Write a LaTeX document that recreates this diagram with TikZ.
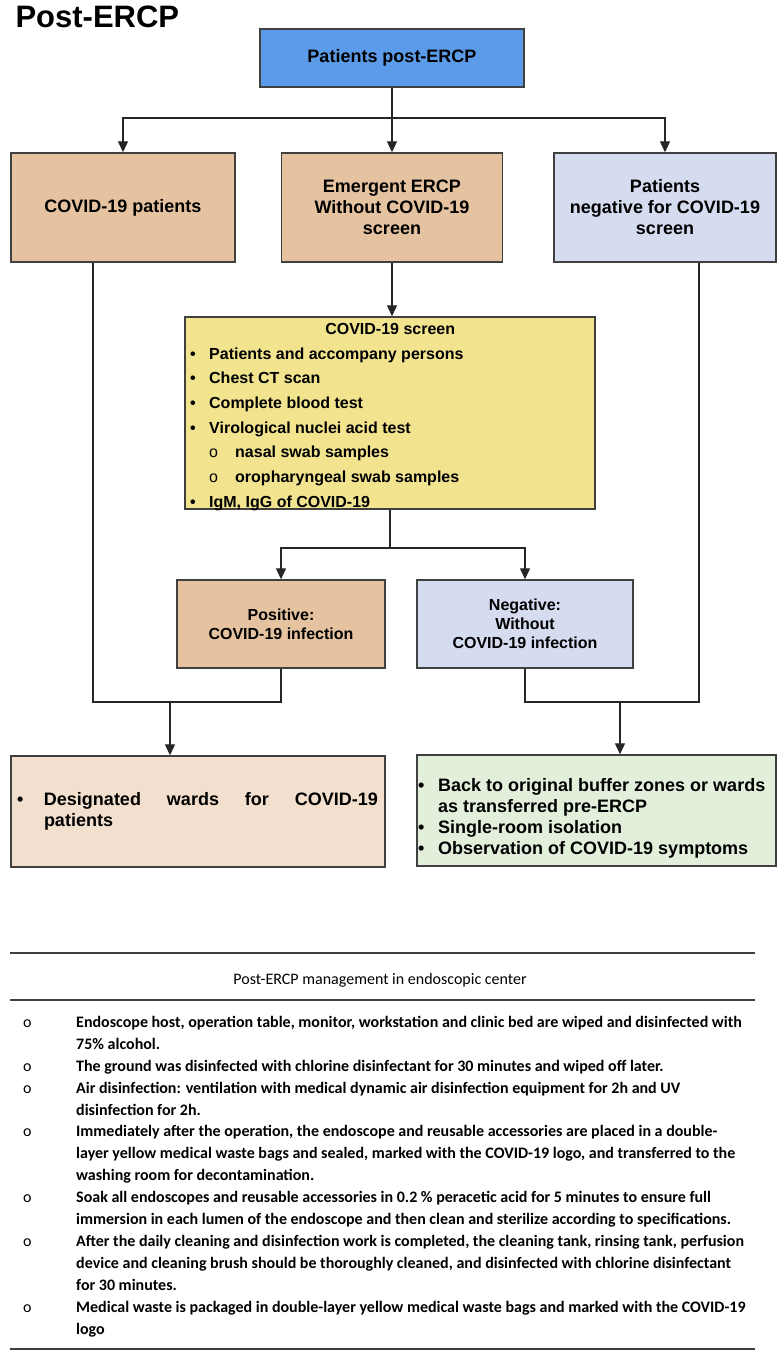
\documentclass[tikz,border=0pt]{standalone}
\usepackage{fontspec}
\setmainfont{Liberation Sans}
\newfontfamily\calibrifont{Carlito}
\usetikzlibrary{arrows.meta}
\definecolor{topblue}{RGB}{91,155,233}
\definecolor{tanbox}{RGB}{230,195,160}
\definecolor{lavbox}{RGB}{214,220,240}
\definecolor{yelbox}{RGB}{242,228,143}
\definecolor{peachbox}{RGB}{242,223,205}
\definecolor{greenbox}{RGB}{226,239,218}
\definecolor{edgegray}{RGB}{64,64,64}
\newcommand{\bul}[1]{\makebox[#1][l]{\textbullet}}
\newcommand{\subbul}{\makebox[45pt][l]{\hspace*{19pt}{\mdseries o}}}
\newcommand{\mitem}{\makebox[56pt][l]{\hspace*{3pt}{\mdseries o}}}
\newcommand{\mcont}{\hspace*{56pt}}

\begin{document}
\begin{tikzpicture}[x=1pt,y=-1pt,>={Triangle[length=11pt,width=10pt]}]
\tikzstyle{box}=[draw=edgegray,line width=1.4pt,inner sep=0pt,align=center,font=\bfseries\fontsize{18}{21}\selectfont]
\tikzstyle{warm}=[box,fill=tanbox]
\tikzstyle{cool}=[box,fill=lavbox]
\tikzstyle{link}=[draw=black!85,line width=1.2pt]
\tikzstyle{rule}=[draw=black!75,line width=1.2pt]
\useasboundingbox (0,0) rectangle (779,1355);
\fill[white] (0,0) rectangle (779,1355);

% flow chart
\node[anchor=base west,font=\bfseries\fontsize{31}{31}\selectfont] (title) at (12,27) {Post-ERCP};
\node[box,fill=topblue,minimum width=264pt,minimum height=58pt] (top) at (392,58) {Patients post-ERCP};
\node[warm,minimum width=224pt,minimum height=109pt] (covid) at (123,207.5) {COVID-19 patients};
\node[warm,minimum width=221pt,minimum height=109pt] (emerg) at (392,207.5) {Emergent ERCP\\Without COVID-19\\screen};
\node[cool,minimum width=222pt,minimum height=109pt] (negscr) at (665,207.5) {Patients\\negative for COVID-19\\screen};
\node[box,fill=yelbox,minimum width=410pt,minimum height=192pt] (screen) at (390,413) {};
\node[anchor=north west,inner sep=0pt,align=left,font=\bfseries\fontsize{16}{24.7}\selectfont] (screentext) at (190,323)
  {\makebox[400pt][c]{COVID-19 screen}\\
   \bul{19pt}Patients and accompany persons\\
   \bul{19pt}Chest CT scan\\
   \bul{19pt}Complete blood test\\
   \bul{19pt}Virological nuclei acid test\\
   \subbul nasal swab samples\\
   \subbul oropharyngeal swab samples\\
   \bul{19pt}IgM, IgG of COVID-19};
\node[warm,minimum width=208pt,minimum height=88pt,font=\bfseries\fontsize{16}{19}\selectfont] (posit) at (281,624) {Positive:\\COVID-19 infection};
\node[cool,minimum width=216pt,minimum height=88pt,font=\bfseries\fontsize{16}{19}\selectfont] (neg) at (525,624) {Negative:\\Without\\COVID-19 infection};
\node[box,fill=peachbox,minimum width=374pt,minimum height=111pt,text width=362pt,align=left] (wards) at (198,811.5)
  {\bul{27pt}\makebox[334pt][l]{Designated\hfill wards\hfill for\hfill COVID-19}\\\hspace*{27pt}patients};
\node[box,fill=greenbox,minimum width=359pt,minimum height=111pt] (care) at (596.5,810.5) {};
\node[anchor=north west,inner sep=0pt,align=left,font=\bfseries\fontsize{18}{21}\selectfont] (caretext) at (418,778)
  {\bul{20pt}Back to original buffer zones or wards\\
   \hspace*{20pt}as transferred pre-ERCP\\
   \bul{20pt}Single-room isolation\\
   \bul{20pt}Observation of COVID-19 symptoms};

\coordinate (split) at (392,118);
\coordinate (split2) at (390,548);
\coordinate (lmerge) at (170,702);
\coordinate (rmerge) at (620,702);
\draw[link,->] (top.south) -- (emerg.north);
\draw[link,->] (split) -| (covid.north);
\draw[link,->] (split) -| (negscr.north);
\draw[link,->] (emerg.south) -- (emerg.south |- screen.north);
\draw[link] (screen.south) -- (split2);
\draw[link,->] (split2) -| (posit.north);
\draw[link,->] (split2) -| (neg.north);
\draw[link] ([xshift=-30pt]covid.south) |- (posit.south |- lmerge) -- (posit.south);
\draw[link,->] (lmerge) -- (lmerge |- wards.north);
\draw[link] ([xshift=34pt]negscr.south) |- (neg.south |- rmerge) -- (neg.south);
\draw[link,->] (rmerge) -- (rmerge |- care.north);

% management table
\draw[rule] (10,953) -- (755,953);
\node[font=\calibrifont\fontsize{16}{16}\selectfont] (mgmthead) at (380,980) {Post-ERCP management in endoscopic center};
\draw[rule] (10,1000) -- (755,1000);
\node[anchor=north west,inner sep=0pt,align=left,font=\calibrifont\bfseries\fontsize{16}{21.9}\selectfont] (mgmt) at (20,1016)
  {\mitem Endoscope host, operation table, monitor, workstation and clinic bed are wiped and disinfected with\\
   \mcont 75\% alcohol.\\
   \mitem The ground was disinfected with chlorine disinfectant for 30 minutes and wiped off later.\\
   \mitem Air disinfection: ventilation with medical dynamic air disinfection equipment for 2h and UV\\
   \mcont disinfection for 2h.\\
   \mitem Immediately after the operation, the endoscope and reusable accessories are placed in a double-\\
   \mcont layer yellow medical waste bags and sealed, marked with the COVID-19 logo, and transferred to the\\
   \mcont washing room for decontamination.\\
   \mitem Soak all endoscopes and reusable accessories in 0.2 \% peracetic acid for 5 minutes to ensure full\\
   \mcont immersion in each lumen of the endoscope and then clean and sterilize according to specifications.\\
   \mitem After the daily cleaning and disinfection work is completed, the cleaning tank, rinsing tank, perfusion\\
   \mcont device and cleaning brush should be thoroughly cleaned, and disinfected with chlorine disinfectant\\
   \mcont for 30 minutes.\\
   \mitem Medical waste is packaged in double-layer yellow medical waste bags and marked with the COVID-19\\
   \mcont logo};
\draw[rule] (10,1349) -- (755,1349);
\end{tikzpicture}
\end{document}
